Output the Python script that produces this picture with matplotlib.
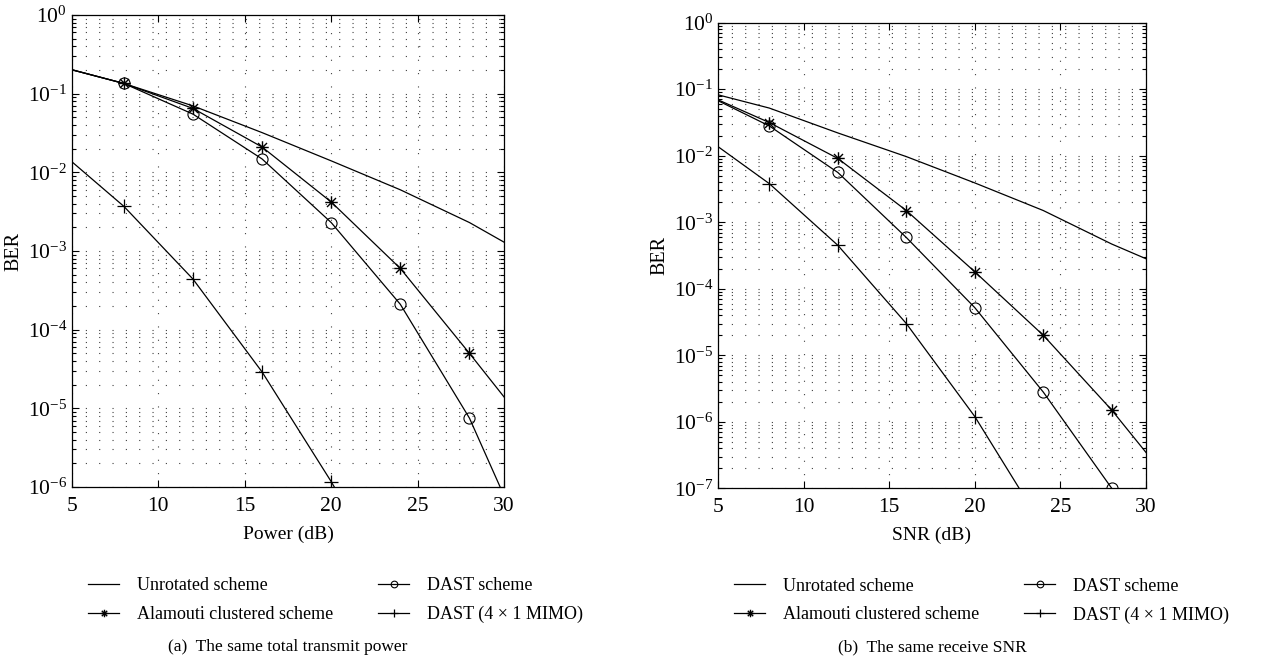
import matplotlib
matplotlib.use("Agg")
import matplotlib.pyplot as plt
from matplotlib.path import Path
import numpy as np

plt.rcParams['font.family'] = ['Liberation Serif', 'DejaVu Serif']
plt.rcParams['mathtext.fontset'] = 'custom'
plt.rcParams['mathtext.rm'] = 'Liberation Serif'
plt.rcParams['mathtext.it'] = 'Liberation Serif:italic'

# x positions of the simulated points (dB)
x_db = [4, 8, 12, 16, 20, 24, 28, 32]

# (a) the same total transmit power
a_unrot = [0.23, 0.135, 0.07, 0.032, 0.014, 0.006, 0.0023, 0.00073]
a_alam = [0.23, 0.135, 0.065, 0.021, 0.0042, 0.0006, 5.0e-5, 3.9e-6]
a_dast = [0.23, 0.135, 0.055, 0.0148, 0.0023, 0.00021, 7.5e-6, 8e-8]
a_dast4 = [0.021, 0.0037, 0.00044, 2.9e-5, 1.17e-6, 3.5e-8, 1e-9, 1e-10]

# (b) the same receive SNR
b_unrot = [0.096, 0.052, 0.022, 0.0097, 0.0039, 0.0015, 0.00047, 0.00017]
b_alam = [0.09, 0.0315, 0.0091, 0.0015, 0.00018, 2.0e-5, 1.5e-6, 8e-8]
b_dast = [0.09, 0.028, 0.0056, 0.00059, 5.2e-5, 2.8e-6, 1.0e-7, 4e-9]
b_dast4 = [0.021, 0.0038, 0.00045, 3.0e-5, 1.2e-6, 2.6e-8, 1e-9, 1e-10]

labels = ["Unrotated scheme", "Alamouti clustered scheme", "DAST scheme",
          "DAST (4 \u00d7 1 MIMO)"]

# MATLAB style asterisk: a "+" and an "x" on top of each other
d = 0.72
asterisk = Path([(-1, 0), (1, 0), (0, -1), (0, 1),
                 (-d, -d), (d, d), (-d, d), (d, -d)],
                [Path.MOVETO, Path.LINETO] * 4)

panels = [
    dict(series=[a_unrot, a_alam, a_dast, a_dast4], xlabel="Power (dB)",
         ylim=(1e-6, 1), rect=[0.0564, 0.2677, 0.3386, 0.7097],
         caption="(a)  The same total transmit power"),
    dict(series=[b_unrot, b_alam, b_dast, b_dast4], xlabel="SNR (dB)",
         ylim=(1e-7, 1), rect=[0.5627, 0.2657, 0.3354, 0.7002],
         caption="(b)  The same receive SNR"),
]

fig = plt.figure(figsize=(12.76, 6.65), dpi=100)
dots = (0, (1, 11))

for p in panels:
    ax = fig.add_axes(p["rect"])
    unrot, alam, dast, dast4 = p["series"]
    lw = 0.9
    ax.plot(x_db, unrot, color="k", lw=lw, label=labels[0])
    ax.plot(x_db, alam, color="k", lw=lw, marker=asterisk, ms=9, mew=1.0,
            mfc="none", label=labels[1])
    ax.plot(x_db, dast, color="k", lw=lw, marker="o", ms=8, mfc="none",
            mew=0.8, label=labels[2])
    ax.plot(x_db, dast4, color="k", lw=lw, marker="+", ms=9.5, mew=0.9,
            label=labels[3])

    ax.set_yscale("log")
    ax.set_xlim(5, 30)
    ax.set_ylim(*p["ylim"])
    ax.set_xticks([5, 10, 15, 20, 25, 30])
    ax.grid(True, which="major", color="0.25", ls=dots, lw=0.8)
    ax.grid(True, which="minor", axis="y", color="0.25", ls=dots, lw=0.8)
    ax.tick_params(which="both", direction="in", top=True, right=True,
                   labelsize=15.5, width=0.8)
    ax.tick_params(which="major", length=5)
    ax.tick_params(which="minor", length=3)
    ax.tick_params(axis="x", pad=7)
    for s in ax.spines.values():
        s.set_linewidth(0.9)
    ax.set_xlabel(p["xlabel"], fontsize=14, labelpad=7)
    ax.set_ylabel("BER", fontsize=14.5, labelpad=3)

    h, l = ax.get_legend_handles_labels()
    ax.legend(h, l, ncol=2, loc="upper left",
              bbox_to_anchor=(0.0, -0.157), frameon=False,
              fontsize=13, markerscale=0.6, handlelength=1.7,
              columnspacing=2.5, labelspacing=0.65, handletextpad=1.0)

    x0, y0, w, hgt = p["rect"]
    fig.text(x0 + w / 2, 0.027, p["caption"], ha="center", va="center",
             fontsize=12.5)

fig.savefig("out.png", dpi=100)
